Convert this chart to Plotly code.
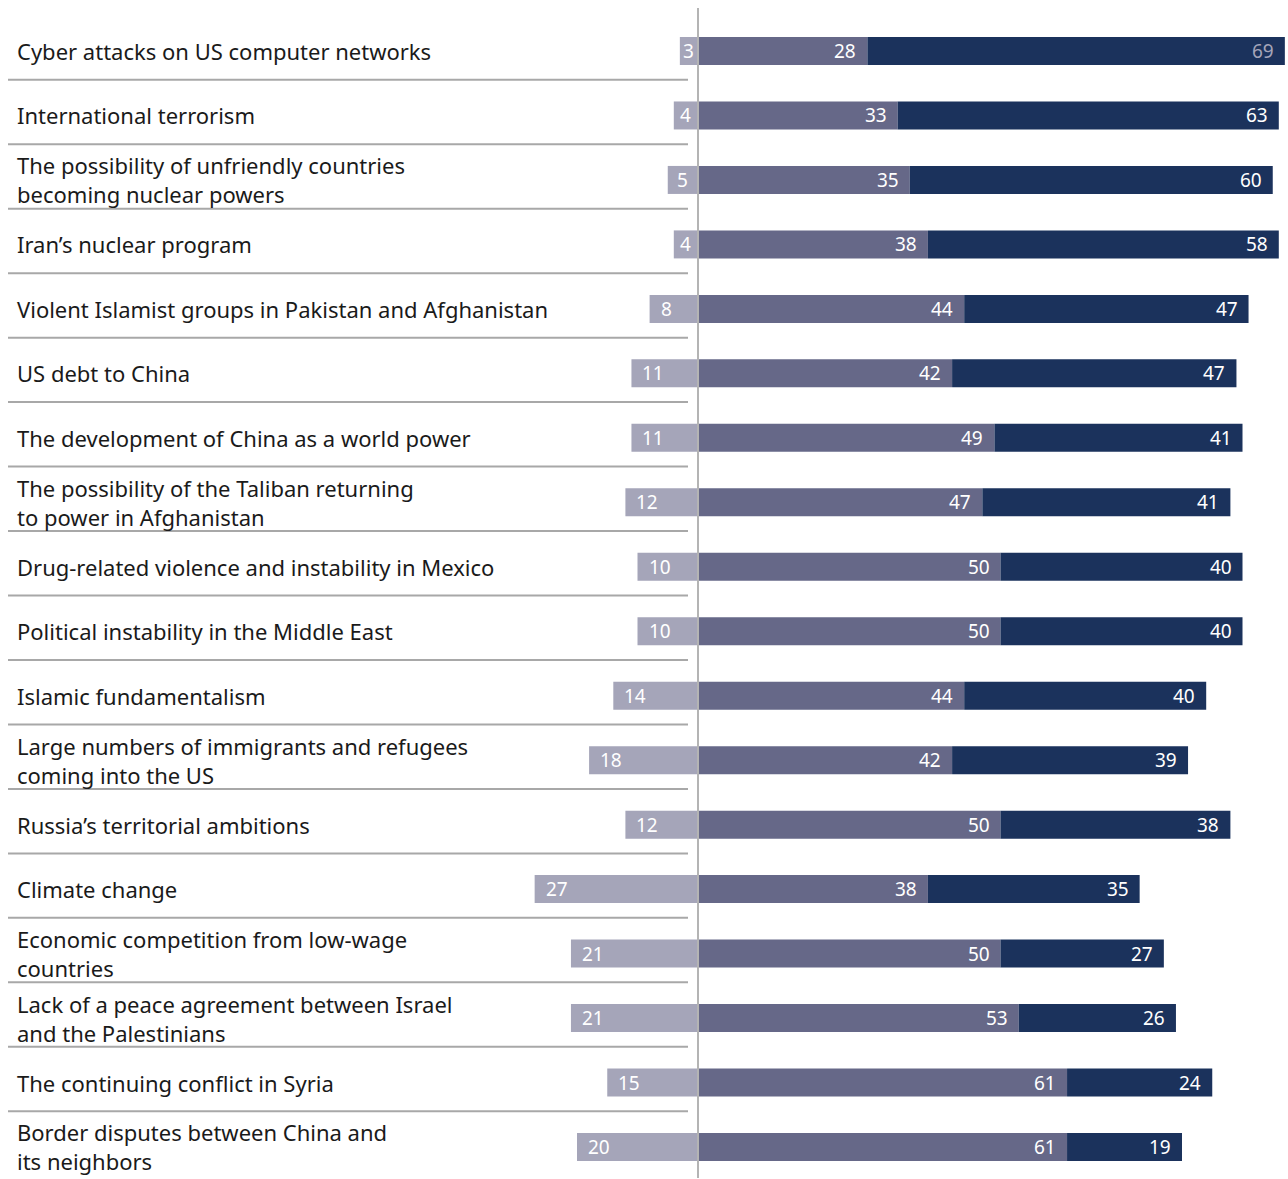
import plotly.graph_objects as go

# Threat categories (top to bottom)
categories = [
    "Cyber attacks on US computer networks",
    "International terrorism",
    "The possibility of unfriendly countries<br>becoming nuclear powers",
    "Iran’s nuclear program",
    "Violent Islamist groups in Pakistan and Afghanistan",
    "US debt to China",
    "The development of China as a world power",
    "The possibility of the Taliban returning<br>to power in Afghanistan",
    "Drug-related violence and instability in Mexico",
    "Political instability in the Middle East",
    "Islamic fundamentalism",
    "Large numbers of immigrants and refugees<br>coming into the US",
    "Russia’s territorial ambitions",
    "Climate change",
    "Economic competition from low-wage<br>countries",
    "Lack of a peace agreement between Israel<br>and the Palestinians",
    "The continuing conflict in Syria",
    "Border disputes between China and<br>its neighbors",
]

# Percentages for each response group
not_important = [3, 4, 5, 4, 8, 11, 11, 12, 10, 10, 14, 18, 12, 27, 21, 21, 15, 20]
important = [28, 33, 35, 38, 44, 42, 49, 47, 50, 50, 44, 42, 50, 38, 50, 53, 61, 61]
critical = [69, 63, 60, 58, 47, 47, 41, 41, 40, 40, 40, 39, 38, 35, 27, 26, 24, 19]

C_LIGHT = "#a5a5b9"
C_MID = "#666888"
C_DARK = "#1b325c"

W, H = 1288, 1179
PX_PER_UNIT = 6.05
ZERO_PX = 698
ROW0_PX = 51
ROW_STEP = 64.47

ys = list(range(len(categories)))
bar_w = 28 / ROW_STEP

fig = go.Figure()
fig.add_trace(go.Bar(y=ys, x=[-v for v in not_important], orientation="h",
                     marker=dict(color=C_LIGHT, line=dict(width=0)), width=bar_w,
                     hoverinfo="skip"))
fig.add_trace(go.Bar(y=ys, x=important, orientation="h",
                     marker=dict(color=C_MID, line=dict(width=0)), width=bar_w,
                     hoverinfo="skip"))
fig.add_trace(go.Bar(y=ys, x=critical, base=important, orientation="h",
                     marker=dict(color=C_DARK, line=dict(width=0)), width=bar_w,
                     hoverinfo="skip"))

annotations = []
shapes = []
val_font = dict(family="Noto Sans", size=19, color="white")

for i, cat in enumerate(categories):
    annotations.append(dict(
        x=17 / W, xref="paper", y=i, yref="y", text=cat, showarrow=False,
        xanchor="left", yanchor="middle", align="left", xshift=-2,
        font=dict(family="Noto Sans", size=22, color="#1a1a1a")))

    n = not_important[i]
    if n <= 5:
        annotations.append(dict(x=-n / 2, y=i, text=str(n), showarrow=False,
                                xanchor="center", yanchor="middle", font=val_font))
    else:
        annotations.append(dict(x=-n, y=i, text=str(n), showarrow=False,
                                xanchor="left", yanchor="middle", xshift=9,
                                font=val_font))
    annotations.append(dict(x=important[i], y=i, text=str(important[i]),
                            showarrow=False, xanchor="right", yanchor="middle",
                            xshift=-9, font=val_font))
    dark_font = dict(val_font)
    if i == 0:
        dark_font["color"] = "#a5a5b9"
    annotations.append(dict(x=important[i] + critical[i], y=i, text=str(critical[i]),
                            showarrow=False, xanchor="right", yanchor="middle",
                            xshift=-9, font=dark_font))

    if i < len(categories) - 1:
        shapes.append(dict(type="line", xref="paper", yref="y",
                           x0=8 / W, x1=688 / W, y0=i + 0.446, y1=i + 0.446,
                           line=dict(color="#a8a8a8", width=2)))

# zero reference line
shapes.append(dict(type="line", xref="x", yref="paper", x0=0, x1=0,
                   y0=1 - 1178 / H, y1=1 - 8 / H,
                   line=dict(color="#b4b4b4", width=2), layer="above"))

x_lo = -ZERO_PX / PX_PER_UNIT
x_hi = (W - ZERO_PX) / PX_PER_UNIT
y_top = -ROW0_PX / ROW_STEP
y_bot = (H - ROW0_PX) / ROW_STEP

fig.update_layout(
    width=W, height=H, barmode="overlay", showlegend=False,
    margin=dict(l=0, r=0, t=0, b=0),
    paper_bgcolor="white", plot_bgcolor="white",
    xaxis=dict(range=[x_lo, x_hi], visible=False, fixedrange=True),
    yaxis=dict(range=[y_bot, y_top], visible=False, fixedrange=True),
    annotations=annotations, shapes=shapes,
)

fig.write_html("out.html", config={"displayModeBar": False})
